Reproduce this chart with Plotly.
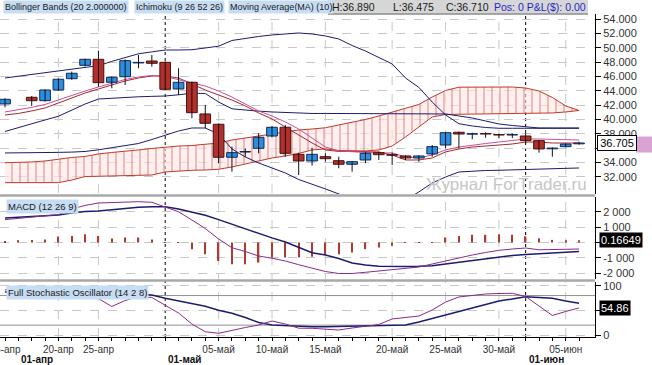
import plotly.graph_objects as go

# ---------------- data (bar slots: one slot per trading bar) ----------------
slots = list(range(44))

candle_slot = [0, 2, 3, 4, 5, 6, 7, 8, 9, 10, 11, 12, 13, 14, 15, 16, 17, 18, 19, 20, 21,
               22, 23, 24, 25, 26, 27, 28, 29, 30, 31, 32, 33, 34, 35, 36, 37, 38, 39, 40,
               41, 42, 43]
opens = [42.17, 43.10, 42.63, 44.12, 45.70, 47.57, 48.41, 45.20, 45.98, 47.90, 48.17, 47.99,
         44.26, 45.20, 40.77, 39.33, 34.72, 35.45, 35.97, 37.69, 38.91, 35.13, 34.20, 34.80,
         34.24, 33.74, 34.34, 35.36, 35.08, 34.90, 34.62, 35.18, 36.43, 38.21, 37.95, 37.99,
         37.85, 37.83, 37.69, 37.04, 35.90, 36.20, 36.60]
highs = [42.96, 43.28, 44.22, 45.75, 46.70, 48.50, 49.61, 46.00, 48.40, 49.01, 49.01, 48.10,
         47.15, 45.30, 42.03, 39.45, 36.20, 35.97, 38.07, 39.09, 39.23, 35.36, 36.06, 35.27,
         34.80, 34.20, 35.50, 35.50, 35.36, 35.00, 35.00, 36.43, 38.20, 38.30, 38.15, 38.20,
         38.00, 38.05, 38.07, 37.10, 36.10, 36.65, 36.89]
lows = [41.70, 41.89, 42.49, 44.00, 45.55, 47.40, 44.58, 44.36, 44.82, 47.15, 47.38, 44.10,
        43.42, 40.17, 38.77, 33.88, 32.70, 34.80, 35.27, 37.50, 34.80, 32.24, 33.54, 34.10,
        33.18, 32.70, 33.90, 34.34, 33.64, 34.34, 34.10, 34.80, 35.97, 35.97, 37.23, 37.45,
        37.40, 37.40, 36.67, 35.36, 34.80, 36.10, 36.475]
closes = [42.82, 42.63, 44.12, 45.62, 46.46, 48.41, 45.14, 45.90, 48.22, 47.98, 47.85, 44.22,
          45.20, 40.95, 39.47, 34.72, 35.36, 35.52, 37.51, 38.91, 35.27, 34.20, 35.13, 34.52,
          33.74, 34.10, 35.27, 35.08, 35.00, 34.62, 34.90, 36.20, 38.15, 37.97, 37.99, 37.97,
          37.83, 37.87, 37.04, 35.88, 36.00, 36.57, 36.71]

bb_upper = [45.80, 46.04, 46.29, 46.51, 46.76, 47.00, 47.25, 47.52, 48.12, 48.65,
            49.18, 49.45, 49.71, 49.71, 49.75, 49.99, 50.24, 51.04, 51.36, 51.60,
            51.81, 51.95, 52.09, 51.95, 51.67, 51.25, 50.34, 49.57, 48.64, 47.76,
            45.80, 44.48, 42.44, 40.63, 39.41, 39.09, 38.88, 38.77, 38.77, 38.77,
            38.77, 38.77, 38.77, 38.77]
kijun = [38.32, 38.88, 39.45, 39.93, 40.45, 41.33, 42.16, 42.86, 42.98, 43.09,
         43.17, 43.23, 43.28, 43.45, 43.67, 43.63, 42.44, 41.49, 41.28, 41.16,
         41.05, 40.96, 40.88, 40.84, 40.84, 40.84, 40.84, 40.84, 40.84, 40.84,
         40.84, 40.84, 40.84, 40.77, 40.49, 40.21, 39.79, 39.37, 39.16, 38.95,
         38.81, 38.81, 38.81, 38.81]
bb_lower = [35.32, 35.32, 35.34, 35.37, 35.40, 35.44, 35.53, 35.76, 36.02, 36.30,
            36.64, 37.20, 37.76, 38.39, 38.81, 38.81, 37.97, 35.88, 34.76, 33.92,
            33.22, 32.52, 31.61, 30.98, 30.29, 29.59, 28.88, 28.33, 28.05, 28.05,
            28.75, 29.87, 31.12, 31.96, 32.66, 32.80, 32.87, 32.90, 32.97, 33.04,
            33.08, 33.12, 33.18, 33.22]
ma10 = [41.05, 41.33, 41.68, 42.10, 42.72, 43.42, 43.98, 44.54, 45.10, 45.59,
        45.94, 46.15, 46.01, 45.52, 45.10, 44.68, 43.98, 43.14, 42.16, 41.19,
        40.49, 39.65, 38.67, 37.41, 36.15, 35.60, 35.46, 35.39, 35.32, 35.32,
        34.76, 34.62, 35.04, 35.74, 36.15, 36.43, 36.64, 36.85, 37.06, 37.27,
        37.27, 37.20, 37.13, 37.13]
tenkan = [40.63, 40.84, 41.19, 41.61, 42.30, 43.00, 43.70, 44.26, 44.82, 45.38,
          45.80, 46.08, 46.08, 45.80, 44.96, 44.12, 43.42, 42.72, 41.89, 40.91,
          40.07, 38.95, 37.83, 36.71, 35.74, 35.53, 35.53, 35.46, 35.46, 35.04,
          34.34, 34.34, 34.62, 35.46, 35.88, 36.15, 36.29, 36.43, 36.57, 36.85,
          36.85, 36.71, 36.71, 36.71]
cloud_top = [33.96, 33.99, 34.06, 34.20, 34.48, 34.69, 34.83, 35.18, 35.39, 35.53,
             35.74, 35.95, 36.16, 36.29, 36.36, 36.50, 36.71, 37.13, 37.41, 37.69,
             37.90, 38.25, 38.53, 38.67, 38.84, 39.23, 39.58, 40.00, 40.49, 41.05,
             41.54, 42.10, 43.14, 44.05, 44.51, 44.54, 44.57, 44.58, 44.54, 44.40,
             43.98, 43.07, 41.89, 41.26]
cloud_bottom = [31.17, 31.17, 31.17, 31.17, 31.17, 31.54, 32.03, 32.06, 32.10, 32.14,
                32.19, 32.24, 32.66, 32.80, 32.90, 32.94, 33.04, 33.36, 33.78, 34.20,
                34.62, 34.90, 35.25, 35.74, 35.88, 35.67, 35.60, 35.60, 35.74, 36.29,
                37.55, 38.95, 40.35, 40.70, 40.73, 40.74, 40.77, 40.80, 40.81, 40.84,
                40.86, 40.91, 41.05, 41.26]

macd_line = [1487, 1565, 1643, 1721, 1812, 2175, 2409, 2565, 2598, 2630,
             2650, 2611, 2325, 1994, 1461, 909, 227, -338, -584, -877,
             -1020, -1201, -1442, -1656, -1883, -2013, -2013, -1935, -1838, -1753,
             -1675, -1591, -1396, -1201, -974, -812, -649, -507, -422, -357,
             -474, -455, -435, -422]
macd_signal = [1591, 1637, 1682, 1727, 1786, 1916, 2007, 2046, 2130, 2214,
               2286, 2325, 2325, 2175, 1981, 1766, 1487, 1182, 909, 597,
               299, 32, -325, -662, -812, -1039, -1325, -1461, -1546, -1572,
               -1559, -1546, -1507, -1396, -1286, -1201, -1091, -942, -838, -779,
               -727, -682, -630, -584]
macd_hist = [105, 150, 170, 195, 390, 430, 540, 430, 260, 325,
             325, 195, 20, 30, -435, -760, -1195, -1410, -1410, -1300,
             -975, -975, -975, -930, -800, -760, -650, -435, -325, -215,
             -20, 10, 30, 325, 430, 500, 500, 540, 500, 400,
             280, 170, 150, 150]

stoch_k = [91.3, 93.3, 95.3, 93.3, 91.3, 87.2, 83.2, 74.0, 57.8, 70.0,
           78.1, 76.1, 60.9, 44.6, 22.3, 6.7, 3.4, 9.7, 15.2, 20.3,
           28.4, 22.3, 13.8, 13.6, 12.6, 10.1, 14.2, 18.3, 21.3, 32.5,
           35.5, 38.5, 50.7, 66.9, 77.1, 80.1, 83.2, 84.2, 84.6, 78.1,
           58.8, 39.6, 47.7, 54.86]
stoch_d = [87.2, 89.2, 90.3, 90.3, 89.2, 88.2, 87.2, 86.2, 84.2, 83.6,
           83.2, 81.1, 74.4, 69.0, 63.7, 58.2, 50.3, 44.0, 35.5, 25.4,
           20.3, 18.9, 17.2, 16.8, 16.8, 17.2, 18.3, 18.5, 18.7, 18.9,
           20.3, 26.4, 33.5, 41.6, 48.7, 54.8, 61.9, 69.0, 73.0, 77.7,
           76.1, 74.4, 69.0, 64.3]

tick_slots = [0, 4, 7, 16, 20, 24, 29, 33, 37, 42]
tick_labels = ['15-апр', '20-апр', '25-апр', '05-май', '10-май', '15-май',
               '20-май', '25-май', '30-май', '05-июн']
grid_slots = [4, 7, 16, 20, 24, 29, 33, 37, 42]
month_slots = [1, 12, 39]
month_labels = ['01-апр', '01-май', '01-июн']
month_lines = [12, 39]

price_ticks = list(range(32, 56, 2))
price_ticktext = ['32.000', '34.000', '', '38.000', '40.000', '42.000', '44.000',
                  '46.000', '48.000', '50.000', '52.000', '54.000']
macd_ticks = [-2000, -1000, 0, 1000, 2000]
macd_ticktext = ['-2 000', '-1 000', '', '1 000', '2 000']
stoch_ticks = [0, 50, 100]
stoch_ticktext = ['0', '', '100']
stoch_levels = [20, 80]

last_price = 36.705
macd_value_text = '0.16649'
stoch_value = 54.86

# ---------------- styles ----------------
NAVY = '#1c1c6e'
CLOUD = '#c0392b'
FONT = 'Liberation Sans, Arial, sans-serif'
LBLUE = '#c6ddf4'
PRICE_RANGE = [29.584, 54.741]

fig = go.Figure()

# Ichimoku cloud
fig.add_trace(go.Scatter(x=slots, y=cloud_bottom, mode='lines',
                         line=dict(color=CLOUD, width=1), hoverinfo='skip',
                         xaxis='x', yaxis='y'))
fig.add_trace(go.Scatter(x=slots, y=cloud_top, mode='lines',
                         line=dict(color=CLOUD, width=1), fill='tonexty',
                         fillcolor='rgba(255,226,226,0.6)',
                         fillpattern=dict(shape='|', size=8, solidity=0.14,
                                          fgcolor=CLOUD, bgcolor='rgba(255,228,228,0.6)'),
                         hoverinfo='skip', xaxis='x', yaxis='y'))

# Bollinger / kijun lines
for arr in (bb_upper, kijun, bb_lower):
    fig.add_trace(go.Scatter(x=slots, y=arr, mode='lines',
                             line=dict(color=NAVY, width=1), xaxis='x', yaxis='y'))
fig.add_trace(go.Scatter(x=slots, y=tenkan, mode='lines',
                         line=dict(color='#a8282a', width=1), xaxis='x', yaxis='y'))
fig.add_trace(go.Scatter(x=slots, y=ma10, mode='lines',
                         line=dict(color='#c8509a', width=1), xaxis='x', yaxis='y'))

# Candles (on an overlaying price axis so they sit above the cloud fill)
wx, wy = [], []
for s, h, l in zip(candle_slot, highs, lows):
    wx += [s, s, None]
    wy += [l, h, None]
fig.add_trace(go.Scatter(x=wx, y=wy, mode='lines', line=dict(color='#111111', width=1),
                         xaxis='x', yaxis='y4'))

up = [i for i in range(len(candle_slot)) if closes[i] >= opens[i]]
dn = [i for i in range(len(candle_slot)) if closes[i] < opens[i]]
fig.add_trace(go.Bar(x=[candle_slot[i] for i in up],
                     y=[max(closes[i] - opens[i], 0.06) for i in up],
                     base=[opens[i] for i in up], width=0.8,
                     marker=dict(color='#2a8fe0', line=dict(color='#0e2a5a', width=1)),
                     xaxis='x', yaxis='y4'))
fig.add_trace(go.Bar(x=[candle_slot[i] for i in dn],
                     y=[max(opens[i] - closes[i], 0.06) for i in dn],
                     base=[closes[i] for i in dn], width=0.8,
                     marker=dict(color='#b3302a', line=dict(color='#4a1010', width=1)),
                     xaxis='x', yaxis='y4'))

# MACD
fig.add_trace(go.Bar(x=slots, y=macd_hist, width=0.1,
                     marker=dict(color='#b03a2e', line=dict(width=0)),
                     xaxis='x2', yaxis='y2'))
fig.add_trace(go.Scatter(x=slots, y=macd_signal, mode='lines',
                         line=dict(color=NAVY, width=1.5), xaxis='x2', yaxis='y2'))
fig.add_trace(go.Scatter(x=slots, y=macd_line, mode='lines',
                         line=dict(color='#8a2a8a', width=1), xaxis='x2', yaxis='y2'))

# Stochastic
fig.add_trace(go.Scatter(x=slots, y=stoch_d, mode='lines',
                         line=dict(color=NAVY, width=1.5), xaxis='x3', yaxis='y3'))
fig.add_trace(go.Scatter(x=slots, y=stoch_k, mode='lines',
                         line=dict(color='#8a2a8a', width=1), xaxis='x3', yaxis='y3'))

# ---------------- layout ----------------
W, H = 652, 365
ML, MR, MT, MB = 0, 57, 0, 28
PW, PH = W - ML - MR, H - MT - MB


def px_x(px):
    return px / PW


def px_y(py):
    return (PH - py) / PH


XR = [-0.375, 44.195]
common_x = dict(range=XR, showgrid=False, zeroline=False, fixedrange=True)
tf = dict(size=11, color='#333333')

fig.update_layout(
    width=W, height=H, margin=dict(l=ML, r=MR, t=MT, b=MB),
    paper_bgcolor='white', plot_bgcolor='white', showlegend=False, barmode='overlay',
    font=dict(family=FONT, size=11, color='#222222'),
    xaxis=dict(domain=[0, 1], anchor='y', showticklabels=False, ticks='',
               rangeslider=dict(visible=False), **common_x),
    xaxis2=dict(domain=[0, 1], anchor='y2', showticklabels=False, ticks='', **common_x),
    xaxis3=dict(domain=[0, 1], anchor='y3', tickmode='array', tickvals=tick_slots,
                ticktext=tick_labels, ticks='outside', ticklen=3, tickcolor='black',
                showline=True, linecolor='black', linewidth=1,
                minor=dict(tickmode='array', tickvals=slots, ticks='outside', ticklen=3,
                           tickcolor='black', showgrid=False),
                ticklabeloverflow='allow', automargin=False,
                tickfont=dict(size=10, color='#333333'), **common_x),
    yaxis=dict(domain=[px_y(194), px_y(14)], range=PRICE_RANGE, anchor='x',
               side='right', tickmode='array', tickvals=price_ticks, ticktext=price_ticktext,
               ticks='outside', ticklen=5, tickcolor='black', showline=True,
               linecolor='black', showgrid=True, gridcolor='#c8c8c8', griddash='dash',
               zeroline=False, automargin=False, fixedrange=True, tickfont=tf),
    yaxis4=dict(overlaying='y', range=PRICE_RANGE, anchor='x', side='right',
                visible=False, showgrid=False, zeroline=False, fixedrange=True),
    yaxis2=dict(domain=[px_y(279), px_y(197)], range=[-2370, 2955], anchor='x2',
                side='right', tickmode='array', tickvals=macd_ticks, ticktext=macd_ticktext,
                ticks='outside', ticklen=5, tickcolor='black', showline=True,
                linecolor='black', showgrid=True, gridcolor='#c8c8c8', griddash='dash',
                zeroline=False, automargin=False, fixedrange=True, tickfont=tf),
    yaxis3=dict(domain=[0, px_y(282)], range=[-4.06, 107.5], anchor='x3',
                side='right', tickmode='array', tickvals=stoch_ticks, ticktext=stoch_ticktext,
                ticks='outside', ticklen=5, tickcolor='black', showline=True,
                linecolor='black', showgrid=True, gridcolor='#c8c8c8', griddash='dash',
                zeroline=False, automargin=False, fixedrange=True, tickfont=tf),
)

shapes = []
for s in grid_slots:
    shapes.append(dict(type='line', xref='x', yref='paper', x0=s, x1=s, y0=0, y1=px_y(14),
                       line=dict(color='#c8c8c8', width=1, dash='dash'), layer='below'))
for s in month_lines:
    shapes.append(dict(type='line', xref='x', yref='paper', x0=s, x1=s, y0=0, y1=px_y(14),
                       line=dict(color='black', width=1, dash='3px,3px'), layer='below'))
for lv in stoch_levels:
    shapes.append(dict(type='line', xref='paper', yref='y3', x0=0, x1=1, y0=lv, y1=lv,
                       line=dict(color='#909090', width=1), layer='below'))
for a, b in ((194.3, 196.8), (279.3, 281.8)):
    shapes.append(dict(type='rect', xref='paper', yref='paper', x0=0, x1=1,
                       y0=px_y(b), y1=px_y(a), fillcolor='#a8a8a8', line=dict(width=0),
                       layer='above'))
shapes.append(dict(type='rect', xref='paper', yref='paper', x0=px_x(328), x1=px_x(588),
                   y0=px_y(13.5), y1=px_y(0), fillcolor='#d6d6d6', line=dict(width=0),
                   layer='above'))
shapes.append(dict(type='line', xref='paper', yref='paper', x0=px_x(328), x1=px_x(588),
                   y0=px_y(14), y1=px_y(14), line=dict(color='#555555', width=1),
                   layer='above'))
shapes.append(dict(type='rect', xref='paper', yref='paper', x0=px_x(636), x1=px_x(660),
                   y0=px_y(152.5), y1=px_y(136.5), fillcolor='#d9a3d3', line=dict(width=0),
                   layer='above'))

ann = []


def top_label(text, px, bg=None, color='#1a1a1a', size=9):
    d = dict(text=text, xref='paper', yref='paper', x=px_x(px), y=px_y(7),
             xanchor='left', yanchor='middle', showarrow=False,
             font=dict(family=FONT, size=size, color=color), borderpad=1)
    if bg:
        d['bgcolor'] = bg
    return d


ann.append(top_label('Bollinger Bands (20 2.000000)', 3, LBLUE))
ann.append(top_label('Ichimoku (9 26 52 26)', 134, LBLUE))
ann.append(top_label('Moving Average(MA) (10)', 228, LBLUE))
ann.append(top_label('H:36.890', 330, size=10.5))
ann.append(top_label('L:36.475', 391, size=10.5))
ann.append(top_label('C:36.710', 444, size=10.5))
ann.append(top_label('Pos: 0 P&amp;L($): 0.00', 492, color='#2626c8', size=10.5))

ann.append(dict(text='MACD (12 26 9)', xref='paper', yref='paper', x=px_x(6), y=px_y(206.5),
                xanchor='left', yanchor='middle', showarrow=False, bgcolor=LBLUE,
                font=dict(family=FONT, size=9.5, color='#1a1a1a'), borderpad=1))
ann.append(dict(text='Full Stochastic Oscillator (14 2 8)', xref='paper', yref='paper',
                x=px_x(6), y=px_y(292.5), xanchor='left', yanchor='middle', showarrow=False,
                bgcolor=LBLUE, font=dict(family=FONT, size=9.5, color='#1a1a1a'), borderpad=1))

ann.append(dict(text=f'{last_price:.3f}', xref='paper', yref='y', x=px_x(616.5), y=last_price,
                xanchor='center', yanchor='middle', showarrow=False, bgcolor='white',
                bordercolor='black', borderwidth=1, borderpad=1, width=36,
                font=dict(family=FONT, size=11, color='black')))
ann.append(dict(text=macd_value_text, xref='paper', yref='paper', x=px_x(599), y=px_y(239.5),
                xanchor='left', yanchor='middle', showarrow=False, bgcolor='black',
                borderpad=1, font=dict(family=FONT, size=11, color='white')))
ann.append(dict(text=f'{stoch_value:.2f}', xref='paper', yref='y3', x=px_x(599), y=stoch_value,
                xanchor='left', yanchor='middle', showarrow=False, bgcolor='black',
                borderpad=1, font=dict(family=FONT, size=11, color='white')))

ann.append(dict(text='Журнал ForTrader.ru', xref='paper', yref='paper', x=px_x(506),
                y=px_y(184), xanchor='center', yanchor='middle', showarrow=False,
                font=dict(family=FONT, size=17, color='#c6c6c6')))

for s, t in zip(month_slots, month_labels):
    ann.append(dict(text=f'<b>{t}</b>', xref='x3', yref='paper', x=s, y=px_y(359.5),
                    xanchor='left', yanchor='middle', xshift=1, showarrow=False,
                    font=dict(family=FONT, size=10, color='#111111')))

fig.update_layout(shapes=shapes, annotations=ann)
fig.write_html('out.html')
